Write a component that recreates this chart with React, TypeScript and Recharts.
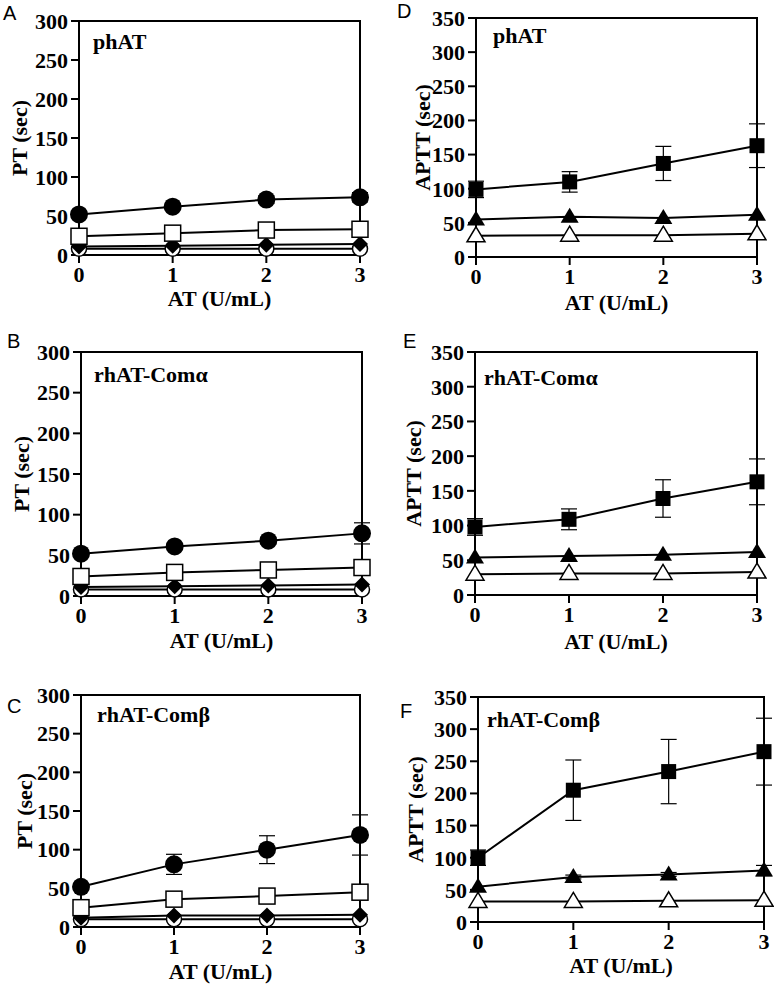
import React from 'react';
import { LineChart, Line, XAxis, YAxis, ReferenceArea, ErrorBar } from 'recharts';

// AT dose on the x axis
const doses = [0, 1, 2, 3];
const xTicks = [0, 1, 2, 3];
const ptTicks = [0, 50, 100, 150, 200, 250, 300];
const apttTicks = [0, 50, 100, 150, 200, 250, 300, 350];

// A: PT, phAT
const ptCircleA = [52, 62, 71, 74];
const ptCircleErrA = [0, 2, 5, 6];
const ptSquareA = [24, 28, 32, 33];
const ptDiamondA = [11, 12, 13, 14];
const ptOpenCircleA = [8, 8, 8, 8];

// B: PT, rhAT-Comα
const ptCircleB = [52, 61, 68, 77];
const ptCircleErrB = [0, 2, 4, 13];
const ptSquareB = [24, 29, 32, 35];
const ptDiamondB = [11, 12, 13, 14];
const ptOpenCircleB = [8, 8, 8, 8];

// C: PT, rhAT-Comβ
const ptCircleC = [52, 81, 100, 119];
const ptCircleErrC = [0, 13, 18, 26];
const ptSquareC = [25, 36, 40, 45];
const ptDiamondC = [12, 15, 15, 16];
const ptOpenCircleC = [10, 10, 10, 10];

// D: APTT, phAT
const apttSquareD = [99, 110, 137, 163];
const apttSquareErrD = [12, 15, 25, 32];
const apttTriD = [55, 59, 57, 62];
const apttOpenTriD = [31, 32, 32, 34];

// E: APTT, rhAT-Comα
const apttSquareE = [98, 109, 139, 163];
const apttSquareErrE = [12, 15, 27, 33];
const apttTriE = [54, 56, 58, 62];
const apttOpenTriE = [30, 31, 31, 33];

// F: APTT, rhAT-Comβ
const apttSquareF = [100, 205, 234, 265];
const apttSquareErrF = [12, 47, 50, 52];
const apttTriF = [55, 70, 74, 80];
const apttTriErrF = [0, 3, 3, 8];
const apttOpenTriF = [32, 32, 33, 34];

const SERIF = "'Liberation Serif', 'Times New Roman', serif";

type Shape = 'circleFilled' | 'circleOpen' | 'squareFilled' | 'squareOpen' | 'diamond' | 'triFilled' | 'triOpen';
type Series = { values: number[]; errors?: number[]; shape: Shape };

const marker = (shape: Shape) => (props: any) => {
  const { cx, cy, index } = props;
  if (cx == null || cy == null) return <g key={index} />;
  const k = `m-${index}`;
  switch (shape) {
    case 'circleFilled':
      return <circle key={k} cx={cx} cy={cy} r={9} fill="#000" />;
    case 'circleOpen':
      return <circle key={k} cx={cx} cy={cy} r={7.5} fill="#fff" stroke="#000" strokeWidth={1.5} />;
    case 'squareFilled':
      return <rect key={k} x={cx - 7.5} y={cy - 7.5} width={15} height={15} fill="#000" />;
    case 'squareOpen':
      return <rect key={k} x={cx - 8} y={cy - 8} width={16} height={16} fill="#fff" stroke="#000" strokeWidth={1.5} />;
    case 'diamond':
      return <polygon key={k} points={`${cx},${cy - 8} ${cx + 8},${cy} ${cx},${cy + 8} ${cx - 8},${cy}`} fill="#000" />;
    case 'triFilled':
      return <polygon key={k} points={`${cx},${cy - 9} ${cx + 9},${cy + 6} ${cx - 9},${cy + 6}`} fill="#000" />;
    case 'triOpen':
      return (
        <polygon key={k} points={`${cx},${cy - 9} ${cx + 9},${cy + 6} ${cx - 9},${cy + 6}`}
          fill="#fff" stroke="#000" strokeWidth={1.5} />
      );
  }
};

type PanelCfg = {
  letter: string;
  letterX: number;
  letterY: number;
  title: string;
  titleDx: number;
  titleDy: number;
  yLabel: string;
  yLabelX: number;
  xLabelDy: number;
  yMax: number;
  yTicks: number[];
  chartLeft: number;
  x0: number; x1: number; y0: number; y1: number;
  series: Series[];
};

const panels: PanelCfg[] = [
  {
    letter: 'A', letterX: 3, letterY: 20, title: 'phAT', titleDx: 14, titleDy: 28,
    yLabel: 'PT (sec)', yLabelX: 19, xLabelDy: 51, yMax: 300, yTicks: ptTicks,
    chartLeft: 0, x0: 79, x1: 360, y0: 21, y1: 255,
    series: [
      { values: ptOpenCircleA, shape: 'circleOpen' },
      { values: ptDiamondA, shape: 'diamond' },
      { values: ptSquareA, shape: 'squareOpen' },
      { values: ptCircleA, errors: ptCircleErrA, shape: 'circleFilled' },
    ],
  },
  {
    letter: 'B', letterX: 7, letterY: 348, title: 'rhAT-Comα', titleDx: 13, titleDy: 30,
    yLabel: 'PT (sec)', yLabelX: 21, xLabelDy: 52, yMax: 300, yTicks: ptTicks,
    chartLeft: 0, x0: 81, x1: 362, y0: 352, y1: 596,
    series: [
      { values: ptOpenCircleB, shape: 'circleOpen' },
      { values: ptDiamondB, shape: 'diamond' },
      { values: ptSquareB, shape: 'squareOpen' },
      { values: ptCircleB, errors: ptCircleErrB, shape: 'circleFilled' },
    ],
  },
  {
    letter: 'C', letterX: 7, letterY: 713, title: 'rhAT-Comβ', titleDx: 16, titleDy: 27,
    yLabel: 'PT (sec)', yLabelX: 24, xLabelDy: 52, yMax: 300, yTicks: ptTicks,
    chartLeft: 0, x0: 81, x1: 360, y0: 695, y1: 927,
    series: [
      { values: ptOpenCircleC, shape: 'circleOpen' },
      { values: ptDiamondC, shape: 'diamond' },
      { values: ptSquareC, shape: 'squareOpen' },
      { values: ptCircleC, errors: ptCircleErrC, shape: 'circleFilled' },
    ],
  },
  {
    letter: 'D', letterX: 397, letterY: 18, title: 'phAT', titleDx: 17, titleDy: 25,
    yLabel: 'APTT (sec)', yLabelX: 422, xLabelDy: 53, yMax: 350, yTicks: apttTicks,
    chartLeft: 390, x0: 476, x1: 757, y0: 18, y1: 257,
    series: [
      { values: apttOpenTriD, shape: 'triOpen' },
      { values: apttTriD, shape: 'triFilled' },
      { values: apttSquareD, errors: apttSquareErrD, shape: 'squareFilled' },
    ],
  },
  {
    letter: 'E', letterX: 403, letterY: 348, title: 'rhAT-Comα', titleDx: 9, titleDy: 33,
    yLabel: 'APTT (sec)', yLabelX: 413, xLabelDy: 54, yMax: 350, yTicks: apttTicks,
    chartLeft: 390, x0: 475, x1: 757, y0: 352, y1: 595,
    series: [
      { values: apttOpenTriE, shape: 'triOpen' },
      { values: apttTriE, shape: 'triFilled' },
      { values: apttSquareE, errors: apttSquareErrE, shape: 'squareFilled' },
    ],
  },
  {
    letter: 'F', letterX: 400, letterY: 718, title: 'rhAT-Comβ', titleDx: 9, titleDy: 30,
    yLabel: 'APTT (sec)', yLabelX: 415, xLabelDy: 51, yMax: 350, yTicks: apttTicks,
    chartLeft: 390, x0: 478, x1: 764, y0: 697, y1: 922,
    series: [
      { values: apttOpenTriF, shape: 'triOpen' },
      { values: apttTriF, errors: apttTriErrF, shape: 'triFilled' },
      { values: apttSquareF, errors: apttSquareErrF, shape: 'squareFilled' },
    ],
  },
];

const tickStyle = { fill: '#000', fontSize: 22, fontWeight: 'bold', fontFamily: SERIF };
const axisStroke = { stroke: '#000', strokeWidth: 2 };

function Panel({ p }: { p: PanelCfg }) {
  const TOP = 25;
  const RIGHT = 10;
  const XH = 50;
  const BOTTOM = 14;
  const chartTop = p.y0 - TOP;
  const width = p.x1 - p.chartLeft + RIGHT;
  const height = p.y1 - p.y0 + TOP + XH + BOTTOM;

  const data = doses.map((x, i) => {
    const row: any = { x };
    p.series.forEach((s, j) => {
      row[`s${j}`] = s.values[i];
      if (s.errors) row[`e${j}`] = s.errors[i];
    });
    return row;
  });

  return (
    <div style={{ position: 'absolute', left: p.chartLeft, top: chartTop }}>
      <LineChart width={width} height={height} data={data}
        margin={{ top: TOP, right: RIGHT, bottom: BOTTOM, left: 0 }}>
        <XAxis type="number" dataKey="x" domain={[0, 3]} ticks={xTicks} height={XH}
          tickSize={8} tickMargin={3} axisLine={axisStroke} tickLine={axisStroke} tick={tickStyle}
          label={{
            content: (lp: any) => {
              const vb = lp.viewBox;
              return (
                <text x={vb.x + vb.width / 2} y={vb.y + p.xLabelDy} textAnchor="middle"
                  fontFamily={SERIF} fontWeight="bold" fontSize={22} fill="#000">AT (U/mL)</text>
              );
            },
          }} />
        <YAxis type="number" domain={[0, p.yMax]} ticks={p.yTicks} interval={0} width={p.x0 - p.chartLeft}
          tickSize={8} tickMargin={3} axisLine={axisStroke} tickLine={axisStroke} tick={tickStyle}
          label={{
            content: (lp: any) => {
              const vb = lp.viewBox;
              const cx = p.yLabelX - p.chartLeft;
              const cy = vb.y + vb.height / 2;
              return (
                <text x={cx} y={cy} transform={`rotate(-90 ${cx} ${cy})`} textAnchor="middle"
                  dominantBaseline="central" fontFamily={SERIF} fontWeight="bold" fontSize={22}
                  fill="#000">{p.yLabel}</text>
              );
            },
          }} />
        <ReferenceArea x1={0} x2={3} y1={0} y2={p.yMax} fill="none" fillOpacity={0}
          stroke="#000" strokeWidth={2} ifOverflow="visible"
          label={{
            content: (lp: any) => {
              const vb = lp.viewBox;
              return (
                <text x={vb.x + p.titleDx} y={vb.y + p.titleDy} fontFamily={SERIF} fontWeight="bold"
                  fontSize={22} fill="#000">{p.title}</text>
              );
            },
          }} />
        {p.series.map((s, j) => (
          <Line key={j} type="linear" dataKey={`s${j}`} stroke="#000" strokeWidth={2}
            dot={marker(s.shape)} activeDot={false} isAnimationActive={false}>
            {s.errors && (
              <ErrorBar dataKey={`e${j}`} direction="y" width={8} stroke="#000" strokeWidth={1.2} />
            )}
          </Line>
        ))}
      </LineChart>
    </div>
  );
}

export default function App() {
  return (
    <div style={{ position: 'absolute', left: 0, top: 0, width: 774, height: 985, background: '#fff' }}>
      {panels.map((p) => (
        <Panel key={p.letter} p={p} />
      ))}
      {panels.map((p) => (
        <div key={`l-${p.letter}`} style={{
          position: 'absolute', left: p.letterX, top: p.letterY - 17, fontFamily: "'Liberation Sans', Arial, sans-serif",
          fontSize: 20, lineHeight: '20px', color: '#000',
        }}>{p.letter}</div>
      ))}
    </div>
  );
}
